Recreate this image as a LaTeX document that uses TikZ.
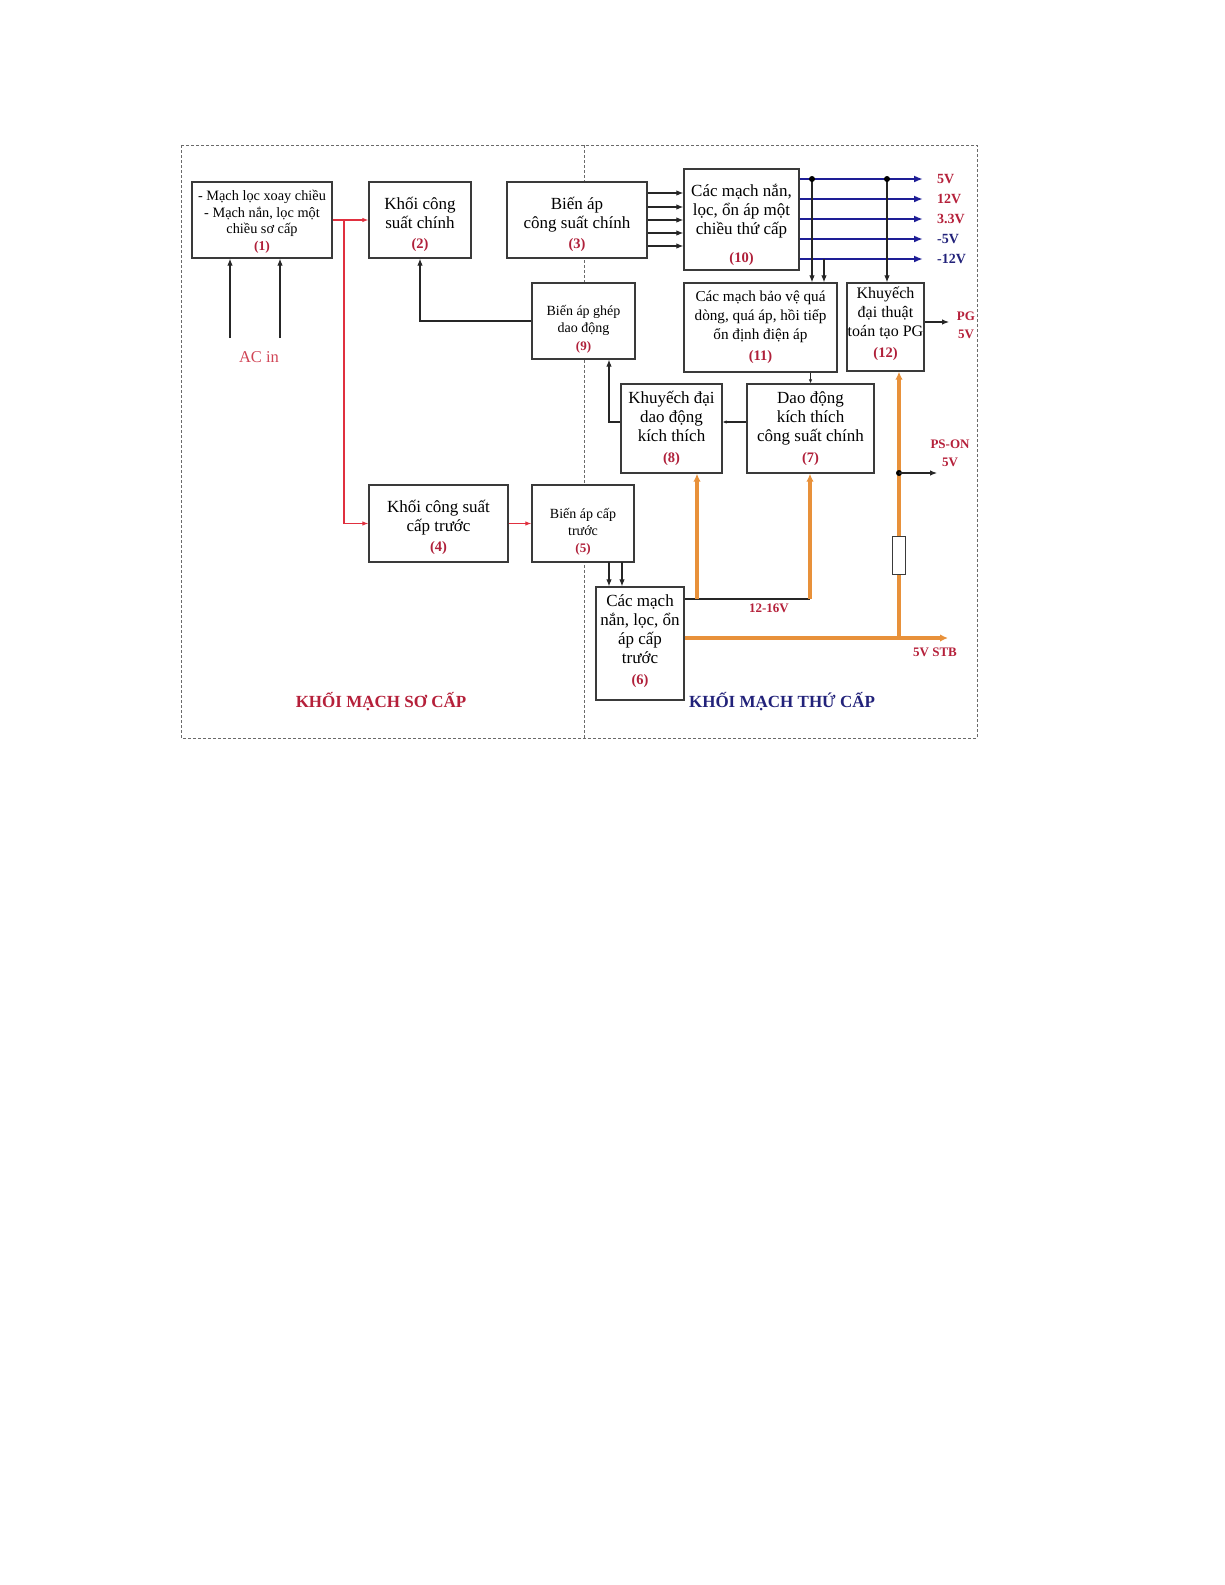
\documentclass[tikz,border=0pt]{standalone}
\usepackage{fontspec}
\setmainfont{Liberation Serif}
\usetikzlibrary{arrows.meta}
\definecolor{numred}{HTML}{B0203A}
\definecolor{lblred}{HTML}{B5203A}
\definecolor{acred}{HTML}{D04455}
\definecolor{linered}{HTML}{E0303F}
\definecolor{navy}{HTML}{1E1E96}
\definecolor{lblblue}{HTML}{22227A}
\definecolor{orng}{HTML}{E8913A}
\definecolor{boxgray}{HTML}{3A3A3A}
\definecolor{framegray}{HTML}{6A6A6A}
\newcommand{\fsz}[2]{\fontsize{#1}{#2}\selectfont}
\newcommand{\nm}[2][14.5]{{\fontsize{#1}{19}\selectfont\color{numred}\bfseries(#2)}}
\begin{document}
\begin{tikzpicture}[x=1pt,y=-1pt,
  box/.style={draw=boxgray, line width=1.3pt, fill=white, inner sep=0pt},
  txt/.style={align=center, inner sep=0pt, font=\fsz{17}{19}},
  blk/.style={draw=black!85, line width=1.1pt},
  arr/.style={blk, -{Latex[length=7pt,width=5.5pt]}},
  sarr/.style={blk, -{Latex[length=4pt,width=3.5pt]}},
  redarr/.style={draw=linered, line width=1.1pt, -{Latex[length=6pt,width=4.5pt]}},
  bluearr/.style={draw=navy, line width=2.4pt, -{Latex[length=9pt,width=7pt]}},
  orarr/.style={draw=orng, line width=3.2pt, -{Latex[length=8pt,width=7.5pt]}},
  dot/.style={circle, fill=black, inner sep=0pt, minimum size=6pt},
  vlbl/.style={font=\fsz{14}{16}\bfseries, anchor=west, inner sep=0pt},
  tlbl/.style={font=\fsz{13}{18}\bfseries, text=lblred, align=center, inner sep=0pt},
  frame/.style={draw=framegray, line width=1pt, dash pattern=on 3pt off 2pt}
]
\useasboundingbox (0,0) rectangle (1225,1585);
% frame
\draw[frame] (181,145) rectangle (977,738);
\draw[frame] (584,145) -- (584,738);

% boxes
\node[box, minimum width=140pt, minimum height=76pt] (b1) at (262,220) {};
\node[txt, font=\fsz{14.3}{16.5}, yshift=-2pt] (b1t) at (b1.center) {- Mạch lọc xoay chiều\\- Mạch nắn, lọc một\\chiều sơ cấp\\\nm[13.5]{1}};
\node[box, minimum width=102pt, minimum height=76pt] (b2) at (420,220) {};
\node[txt, yshift=-4pt] (b2t) at (b2.center) {Khối công\\suất chính\\[1pt]\nm{2}};
\node[box, minimum width=140pt, minimum height=76pt] (b3) at (577,220) {};
\node[txt, yshift=-4pt] (b3t) at (b3.center) {Biến áp\\công suất chính\\[1pt]\nm{3}};
\node[box, minimum width=103pt, minimum height=76pt] (b9) at (583.5,321) {};
\node[txt, font=\fsz{14}{17.5}, yshift=-8pt] (b9t) at (b9.center) {Biến áp ghép\\dao động\\\nm[13]{9}};
\node[box, minimum width=115pt, minimum height=101pt] (b10) at (741.5,219.5) {};
\node[txt, yshift=-5pt] (b10t) at (b10.center) {Các mạch nắn,\\lọc, ổn áp một\\chiều thứ cấp\\[9pt]\nm{10}};
\node[box, minimum width=153pt, minimum height=89pt] (b11) at (760.5,327.5) {};
\node[txt, font=\fsz{15.2}{19}] (b11t) at (b11.center) {Các mạch bảo vệ quá\\dòng, quá áp, hồi tiếp\\ổn định điện áp\\[2pt]\nm{11}};
\node[box, minimum width=77pt, minimum height=88pt] (b12) at (885.5,327) {};
\node[txt, font=\fsz{16}{19}, yshift=3pt] (b12t) at (b12.center) {Khuyếch\\đại thuật\\toán tạo PG\\[2pt]\nm{12}};
\node[box, minimum width=101pt, minimum height=89pt] (b8) at (671.5,428.5) {};
\node[txt] (b8t) at (b8.center) {Khuyếch đại\\dao động\\kích thích\\[2pt]\nm{8}};
\node[box, minimum width=127pt, minimum height=89pt] (b7) at (810.5,428.5) {};
\node[txt] (b7t) at (b7.center) {Dao động\\kích thích\\công suất chính\\[2pt]\nm{7}};
\node[box, minimum width=139pt, minimum height=77pt] (b4) at (438.5,523.5) {};
\node[txt, yshift=-4pt] (b4t) at (b4.center) {Khối công suất\\cấp trước\\[1pt]\nm{4}};
\node[box, minimum width=102pt, minimum height=77pt] (b5) at (583,523.5) {};
\node[txt, font=\fsz{14}{17}, yshift=-8pt] (b5t) at (b5.center) {Biến áp cấp\\trước\\\nm[13]{5}};
\node[box, minimum width=88pt, minimum height=113pt] (b6) at (640,643.5) {};
\node[txt, yshift=2pt] (b6t) at (b6.center) {Các mạch\\nắn, lọc, ổn\\áp cấp\\trước\\[2pt]\nm{6}};

% AC in
\node[font=\fsz{16.5}{18}, text=acred, inner sep=0pt] (acin) at (259,357) {AC in};
\coordinate (ac1) at (230,338);
\coordinate (ac2) at (280,338);
\draw[arr] (ac1) -- (ac1 |- b1.south);
\draw[arr] (ac2) -- (ac2 |- b1.south);

% red primary lines
\coordinate (rj) at (344,220);
\draw[redarr] (b1.east) -- (b2.west);
\draw[redarr] (rj) |- (b4.west);
\draw[redarr] (b4.east) -- (b5.west);

% b9 -> b2
\draw[arr] (b9.west) -| (b2.south);

% b3 -> b10
\foreach \i/\yy in {1/193,2/207,3/220,4/233,5/246}{
  \coordinate (t\i) at (0,\yy);
  \draw[arr] (b3.east |- t\i) -- (b10.west |- t\i);
}

% outputs of b10
\foreach \i/\yy/\lab/\col in {1/179/5V/lblred,2/199/12V/lblred,3/219/3.3V/lblred,4/239/-5V/lblblue,5/259/-12V/lblblue}{
  \coordinate (o\i) at (923,\yy);
  \draw[bluearr] (b10.east |- o\i) -- (o\i);
  \node[vlbl, text=\col] (v\i) at (937,\yy) {\lab};
}
\coordinate (d1) at (812,179);
\coordinate (d2) at (887,179);
\coordinate (d3) at (824,259);
\draw[arr] (d1) -- (d1 |- b11.north);
\draw[arr] (d3) -- (d3 |- b11.north);
\draw[arr] (d2) -- (d2 |- b12.north);
\node[dot] (dd1) at (d1) {};
\node[dot] (dd2) at (d2) {};

% PG
\coordinate (pg) at (949,322);
\draw[arr] (b12.east |- pg) -- (pg);
\node[tlbl] (pgl) at (966,325) {PG\\5V};

% b11 -> b7
\draw[sarr] (b11.south -| b7.north) -- (b7.north);
% b7 -> b8
\coordinate (y422) at (0,422);
\draw[sarr] (b7.west |- y422) -- (b8.east |- y422);
% b8 -> b9
\coordinate (k89) at (609,422);
\draw[arr] (b8.west |- y422) -- (k89) -- (k89 |- b9.south);

% b5 -> b6
\coordinate (c1) at (609,562);
\coordinate (c2) at (622,562);
\draw[arr] (c1) -- (c1 |- b6.north);
\draw[arr] (c2) -- (c2 |- b6.north);

% 12-16V
\coordinate (h1) at (697,599);
\coordinate (h2) at (810,599);
\draw[blk] (b6.east |- h1) -- (h2);
\draw[orarr] (h1) -- (h1 |- b8.south);
\draw[orarr] (h2) -- (h2 |- b7.south);
\node[tlbl] (l1216) at (769,608) {12-16V};

% 5V STB
\coordinate (s1) at (948,638);
\coordinate (sj) at (899,638);
\draw[orarr] (b6.east |- s1) -- (s1);
\draw[orarr] (sj) -- (sj |- b12.south);
\node[draw=boxgray, line width=1pt, fill=white, minimum width=13pt, minimum height=38pt, inner sep=0pt] (res) at (899,555) {};
\node[tlbl] (stb) at (935,652) {5V STB};

% PS-ON
\coordinate (ps) at (937,473);
\node[dot] (dps) at (899,473) {};
\draw[arr] (dps.center) -- (ps);
\node[tlbl] (psl) at (950,453) {PS-ON\\5V};

% titles
\node[font=\fsz{17}{20}\bfseries, text=lblred, inner sep=0pt] (tp) at (381,702) {KHỐI MẠCH SƠ CẤP};
\node[font=\fsz{17}{20}\bfseries, text=lblblue, inner sep=0pt] (ts) at (782,702) {KHỐI MẠCH THỨ CẤP};
\end{tikzpicture}
\end{document}
